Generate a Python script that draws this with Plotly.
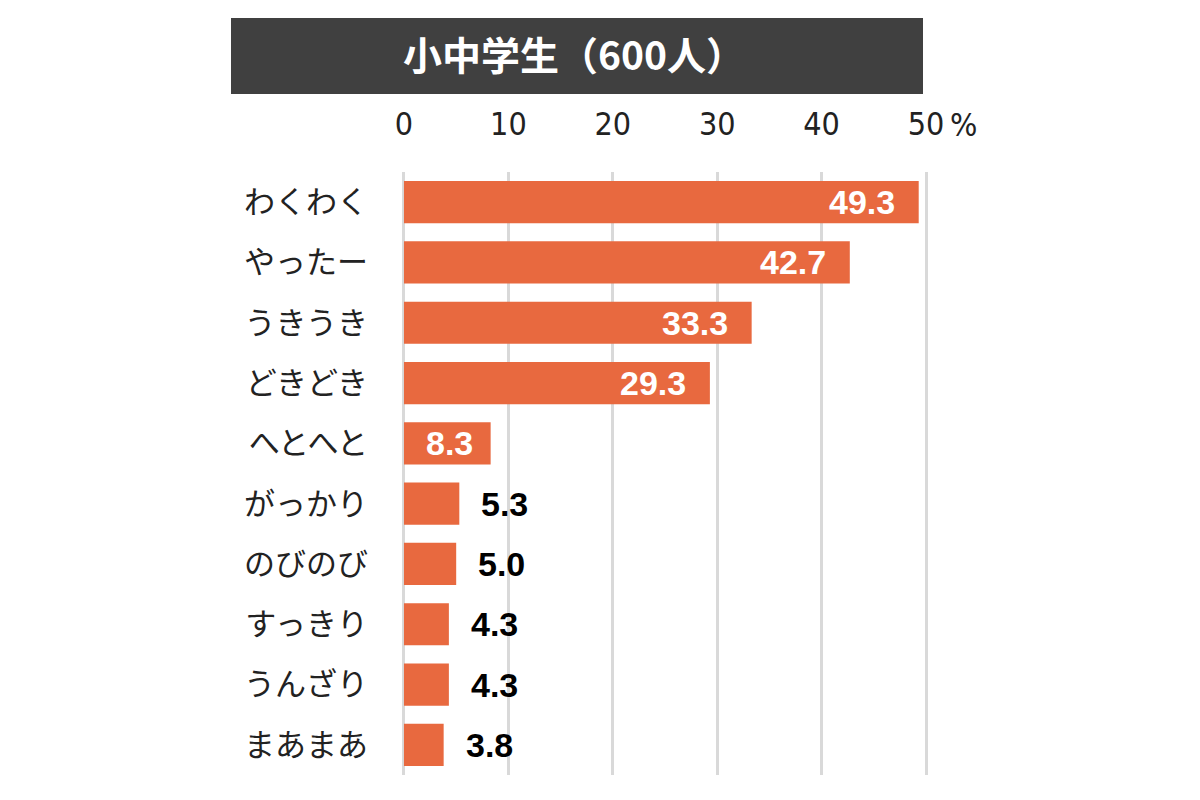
import plotly.graph_objects as go

categories = ["わくわく", "やったー", "うきうき", "どきどき", "へとへと",
              "がっかり", "のびのび", "すっきり", "うんざり", "まあまあ"]
values = [49.3, 42.7, 33.3, 29.3, 8.3, 5.3, 5.0, 4.3, 4.3, 3.8]
tick_vals = [0, 10, 20, 30, 40, 50]
tick_text = ["0", "10", "20", "30", "40", "50"]
title_text = "小中学生（600人）"
unit_text = "%"
inside_threshold = 8

BAR_COLOR = "#E8693F"
GRID_COLOR = "#D9D9D9"
JP_FONT = "Noto Sans CJK JP"
NUM_FONT = "DejaVu Sans Condensed, Roboto Condensed, Roboto, sans-serif"
LABEL_FONT = "Liberation Sans, Arial, sans-serif"

# the page body adds an 8px offset; work in page pixels and convert
OFF = 8
W, H = 1200, 800
ML = 402 - OFF
MT = 172 - OFF
MR = W - (928 - OFF)
MB = H - (775 - OFF)
pw = W - ML - MR
ph = H - MT - MB


def px_x(x):
    return (x - OFF - ML) / pw


def px_y(y):
    return (H - MB - (y - OFF)) / ph


fig = go.Figure()
fig.add_trace(go.Bar(
    x=values, y=categories, orientation="h",
    marker=dict(color=BAR_COLOR, line=dict(width=0)),
    hoverinfo="skip",
))

annotations = []
for c, v in zip(categories, values):
    if v >= inside_threshold:
        annotations.append(dict(
            x=v, y=c, xref="x", yref="y", text=f"{v:.1f}", showarrow=False,
            xanchor="right", xshift=-22 if v > 20 else -16, yshift=0,
            font=dict(family=LABEL_FONT, size=34, color="white", weight="bold"),
        ))
    else:
        annotations.append(dict(
            x=v, y=c, xref="x", yref="y", text=f"{v:.1f}", showarrow=False,
            xanchor="left", xshift=20, yshift=0,
            font=dict(family=LABEL_FONT, size=34, color="black", weight="bold"),
        ))

annotations.append(dict(
    x=tick_vals[-1], y=px_y(125), xref="x", yref="paper", text=unit_text,
    showarrow=False, xanchor="left", yanchor="middle", xshift=22,
    font=dict(family=NUM_FONT, size=32, color="#222222"),
))

annotations.append(dict(
    x=px_x(574), y=px_y(53), xref="paper", yref="paper", text=title_text,
    showarrow=False, xanchor="center", yanchor="middle",
    font=dict(family=JP_FONT, size=39, color="white", weight="bold"),
))

fig.update_layout(
    width=W, height=H,
    margin=dict(l=ML, r=MR, t=MT, b=MB, pad=0, autoexpand=False),
    paper_bgcolor="white", plot_bgcolor="white",
    bargap=0.3,
    showlegend=False,
    xaxis=dict(
        side="top", range=[-0.19, 50.19], automargin=False,
        tickvals=tick_vals, ticktext=tick_text,
        showgrid=True, gridcolor=GRID_COLOR, gridwidth=3,
        zeroline=True, zerolinecolor=GRID_COLOR, zerolinewidth=3,
        showline=False, ticks="", ticklabelstandoff=30,
        tickfont=dict(family=NUM_FONT, size=32, color="#222222"),
        fixedrange=True,
    ),
    yaxis=dict(
        autorange="reversed", automargin=False,
        showgrid=False, zeroline=False, showline=False,
        ticks="", ticklabelstandoff=33,
        tickfont=dict(family=JP_FONT, size=31, color="#222222"),
        fixedrange=True,
    ),
    annotations=annotations,
    shapes=[dict(
        type="rect", xref="paper", yref="paper", layer="above",
        x0=px_x(231), x1=px_x(923), y0=px_y(94), y1=px_y(18),
        fillcolor="#404040", line=dict(width=0),
    )],
)

fig.write_html("out.html")
